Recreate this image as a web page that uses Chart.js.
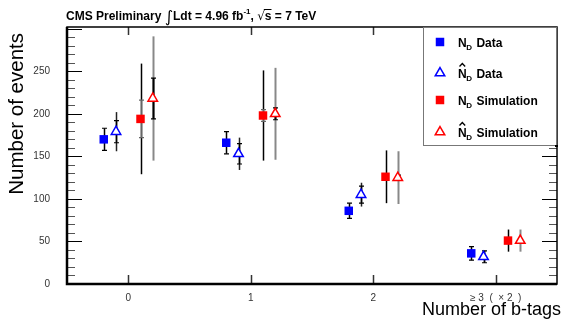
<!DOCTYPE html>
<html>
<head>
<meta charset="utf-8">
<script src="https://cdn.jsdelivr.net/npm/chart.js@4/dist/chart.umd.min.js"></script>
<style>
  html, body { margin: 0; background: #fff; }
  #wrap { width: 564px; height: 323px; }
</style>
</head>
<body>
<div id="wrap"><canvas id="myChart"></canvas></div>
<script>
// values
const groups = [0, 1, 2, 3];
const groupLabels = ["0", "1", "2", "\u2265 3  (  \u00d7 2  )"];
const yTickValues = [0, 50, 100, 150, 200, 250];

const ndData = [170, 166, 86, 36];
const ndDataErr = [13, 13, 9, 8];
const nhatData = [179, 153, 105, 32];
const nhatDataStat = [13, 12, 10, 7];
const nhatDataTot = [23, 19, 14, 7];
const ndSim = [194, 198, 126, 51];
const ndSimStat = [22, 7, 3, 2];
const ndSimTot = [65, 53, 31, 13];
const nhatSim = [218, 200, 125, 51];
const nhatSimStat = [24, 7, 3, 2];
const nhatSimTot = [73, 54, 31, 13];

const FONT = "'Liberation Sans', Arial, sans-serif";

const makePoints = (vals, off) => vals.map((v, i) => ({ x: groups[i] + off, y: v }));

const datasets = [
  {
    label: "N_D Data", data: makePoints(ndData, -0.2),
    stat: ndDataErr, tot: null, statColor: "#000", statWidth: 1.5,
    pointStyle: "rect", pointRadius: 6, backgroundColor: "#0000ff", borderColor: "#0000ff", borderWidth: 0
  },
  {
    label: "N^_D Data", data: makePoints(nhatData, -0.1),
    stat: nhatDataStat, tot: nhatDataTot, statColor: "#000", statWidth: 1.5, totColor: "#222", totWidth: 1.5,
    pointStyle: "triangle", pointRadius: 5.5, backgroundColor: "#fff", borderColor: "#0000ff", borderWidth: 1.5
  },
  {
    label: "N_D Simulation", data: makePoints(ndSim, 0.1),
    stat: ndSimStat, tot: ndSimTot, statColor: "#666", statWidth: 1.5, totColor: "#000", totWidth: 1.5,
    pointStyle: "rect", pointRadius: 6, backgroundColor: "#ff0000", borderColor: "#ff0000", borderWidth: 0
  },
  {
    label: "N^_D Simulation", data: makePoints(nhatSim, 0.2),
    stat: nhatSimStat, tot: nhatSimTot, statColor: "#000", statWidth: 2, totColor: "#888", totWidth: 2,
    pointStyle: "triangle", pointRadius: 5.5, backgroundColor: "#fff", borderColor: "#ff0000", borderWidth: 1.5
  }
];

// error bars, drawn under the markers
const errorBars = {
  id: "errorBars",
  beforeDatasetsDraw(chart) {
    const ctx = chart.ctx;
    const xs = chart.scales.x, ys = chart.scales.y;
    ctx.save();
    chart.data.datasets.forEach((ds) => {
      ds.data.forEach((p, i) => {
        const px = Math.round(xs.getPixelForValue(p.x)) + 0.5;
        if (ds.tot) {
          ctx.strokeStyle = ds.totColor;
          ctx.lineWidth = ds.totWidth;
          ctx.beginPath();
          ctx.moveTo(px, ys.getPixelForValue(p.y + ds.tot[i]));
          ctx.lineTo(px, ys.getPixelForValue(p.y - ds.tot[i]));
          ctx.stroke();
        }
        const top = ys.getPixelForValue(p.y + ds.stat[i]);
        const bot = ys.getPixelForValue(p.y - ds.stat[i]);
        ctx.strokeStyle = ds.statColor;
        ctx.lineWidth = ds.statWidth;
        ctx.beginPath();
        ctx.moveTo(px, top);
        ctx.lineTo(px, bot);
        ctx.stroke();
        ctx.lineWidth = 1.2;
        ctx.beginPath();
        ctx.moveTo(px - 2.5, top); ctx.lineTo(px + 2.5, top);
        ctx.moveTo(px - 2.5, bot); ctx.lineTo(px + 2.5, bot);
        ctx.stroke();
      });
    });
    ctx.restore();
  }
};

const drawMarker = (ctx, ds, x, y) => {
  const r = ds.pointRadius;
  if (ds.pointStyle === "rect") {
    const s = Math.SQRT1_2 * r;
    ctx.fillStyle = ds.backgroundColor;
    ctx.fillRect(x - s, y - s, 2 * s, 2 * s);
  } else {
    ctx.beginPath();
    ctx.moveTo(x, y - r);
    ctx.lineTo(x + Math.sin(Math.PI / 3) * r, y + r / 2);
    ctx.lineTo(x - Math.sin(Math.PI / 3) * r, y + r / 2);
    ctx.closePath();
    ctx.fillStyle = "#fff";
    ctx.fill();
    ctx.strokeStyle = ds.borderColor;
    ctx.lineWidth = ds.borderWidth;
    ctx.stroke();
  }
};

// frame, ROOT style ticks, titles and legend box
const decorations = {
  id: "decorations",
  afterDraw(chart) {
    const ctx = chart.ctx;
    const a = chart.chartArea;
    const xs = chart.scales.x, ys = chart.scales.y;
    ctx.save();

    // y ticks (left and right, pointing inward)
    for (let v = 0; v <= ys.max; v += 10) {
      const py = Math.round(ys.getPixelForValue(v)) + 0.5;
      const major = v % 50 === 0;
      const len = major ? 15 : 8;
      ctx.strokeStyle = major ? "#000" : "#555";
      ctx.lineWidth = 1;
      ctx.beginPath();
      ctx.moveTo(a.left, py); ctx.lineTo(a.left + len, py);
      ctx.moveTo(a.right, py); ctx.lineTo(a.right - len, py);
      ctx.stroke();
    }
    // x ticks
    groups.forEach((g) => {
      const px = Math.round(xs.getPixelForValue(g)) + 0.5;
      ctx.strokeStyle = "#333";
      ctx.lineWidth = 1.5;
      ctx.beginPath();
      ctx.moveTo(px, a.bottom); ctx.lineTo(px, a.bottom - 9);
      ctx.moveTo(px, a.top); ctx.lineTo(px, a.top + 8);
      ctx.stroke();
    });

    // frame
    ctx.strokeStyle = "#000";
    ctx.lineWidth = 1.5;
    ctx.strokeRect(a.left, a.top, a.right - a.left, a.bottom - a.top);
    ctx.lineWidth = 2.5;
    ctx.beginPath();
    ctx.moveTo(a.left, a.top); ctx.lineTo(a.left, a.bottom); ctx.lineTo(a.right, a.bottom);
    ctx.stroke();

    // legend box
    const lx = 423, ly = a.top, lw = a.right - 1 - lx, lh = 145 - a.top;
    ctx.fillStyle = "#fff";
    ctx.fillRect(lx, ly, lw, lh);
    ctx.strokeStyle = "#777";
    ctx.lineWidth = 1;
    ctx.strokeRect(lx + 0.5, ly + 0.5, lw, lh);
    ctx.fillStyle = "#000";
    ctx.fillRect(lx + lw - 1, ly + lh, 3, 2);
    const rows = [42, 73, 100, 132];
    const names = ["Data", "Data", "Simulation", "Simulation"];
    chart.data.datasets.forEach((ds, i) => {
      const y = rows[i];
      drawMarker(ctx, ds, 440, y);
      ctx.fillStyle = "#000";
      ctx.textBaseline = "alphabetic";
      ctx.font = "bold 12px " + FONT;
      let x = 458;
      const hat = ds.label.startsWith("N^");
      ctx.fillText("N", x, y + 5);
      const nw = ctx.measureText("N").width;
      if (hat) {
        ctx.strokeStyle = "#000";
        ctx.lineWidth = 1.3;
        ctx.beginPath();
        ctx.moveTo(x + 1.5, y - 6.5);
        ctx.lineTo(x + nw / 2, y - 9.5);
        ctx.lineTo(x + nw - 1.5, y - 6.5);
        ctx.stroke();
      }
      x += nw;
      ctx.font = "bold 8px " + FONT;
      ctx.fillText("D", x - 0.5, y + 8);
      x += ctx.measureText("D").width + 2;
      ctx.font = "bold 12px " + FONT;
      ctx.fillText(names[i], x + 2, y + 5);
    });

    // top title
    ctx.fillStyle = "#000";
    ctx.textBaseline = "alphabetic";
    let tx = 66;
    const by = 20;
    const piece = (txt, font, dy) => {
      ctx.font = font;
      ctx.fillText(txt, tx, by + (dy || 0));
      const w = ctx.measureText(txt).width;
      tx += w;
      return w;
    };
    piece("CMS Preliminary ", "bold 12px " + FONT);
    piece("\u222b", "16px 'DejaVu Sans', sans-serif", 2);
    piece("Ldt = 4.96 fb", "bold 12px " + FONT);
    piece("-1", "bold 8px " + FONT, -6);
    piece(", ", "bold 12px " + FONT);
    piece("\u221a", "12px 'DejaVu Sans', sans-serif", 0);
    const sx = tx;
    const sw = piece("s", "bold 12px " + FONT);
    ctx.strokeStyle = "#000";
    ctx.lineWidth = 1;
    ctx.beginPath();
    ctx.moveTo(sx - 1, by - 10.5); ctx.lineTo(sx + sw, by - 10.5);
    ctx.stroke();
    piece(" = 7 TeV", "bold 12px " + FONT);

    // axis titles
    ctx.font = "20.5px " + FONT;
    ctx.fillStyle = "#000";
    ctx.save();
    ctx.translate(23, 33);
    ctx.rotate(-Math.PI / 2);
    ctx.textAlign = "right";
    ctx.fillText("Number of events", 0, 0);
    ctx.restore();
    ctx.font = "18px " + FONT;
    ctx.textAlign = "right";
    ctx.fillText("Number of b-tags", 561, 315);

    ctx.restore();
  }
};

const ctx = document.getElementById("myChart").getContext("2d");
const myChart = new Chart(ctx, {
  type: "scatter",
  data: { datasets: datasets },
  options: {
    responsive: true,
    maintainAspectRatio: false,
    animation: false,
    events: [],
    layout: { padding: { top: 27, right: 1, left: 0, bottom: 0 } },
    plugins: { legend: { display: false }, tooltip: { enabled: false } },
    scales: {
      x: {
        type: "linear", min: -0.5, max: 3.5,
        grid: { display: false, drawTicks: false },
        border: { display: false },
        afterBuildTicks: (scale) => { scale.ticks = groups.map((g) => ({ value: g })); },
        afterFit: (scale) => { scale.height = 39; },
        ticks: {
          autoSkip: false, maxRotation: 0, padding: 8, color: "#333",
          font: { family: FONT, size: 10 },
          callback: (v) => groupLabels[groups.indexOf(v)]
        }
      },
      y: {
        min: 0, max: 302,
        grid: { display: false, drawTicks: false },
        border: { display: false },
        afterBuildTicks: (scale) => { scale.ticks = yTickValues.map((v) => ({ value: v })); },
        afterFit: (scale) => { scale.width = 67; },
        ticks: { padding: 17, color: "#333", font: { family: FONT, size: 10 } }
      }
    }
  },
  plugins: [errorBars, decorations]
});
</script>
</body>
</html>
